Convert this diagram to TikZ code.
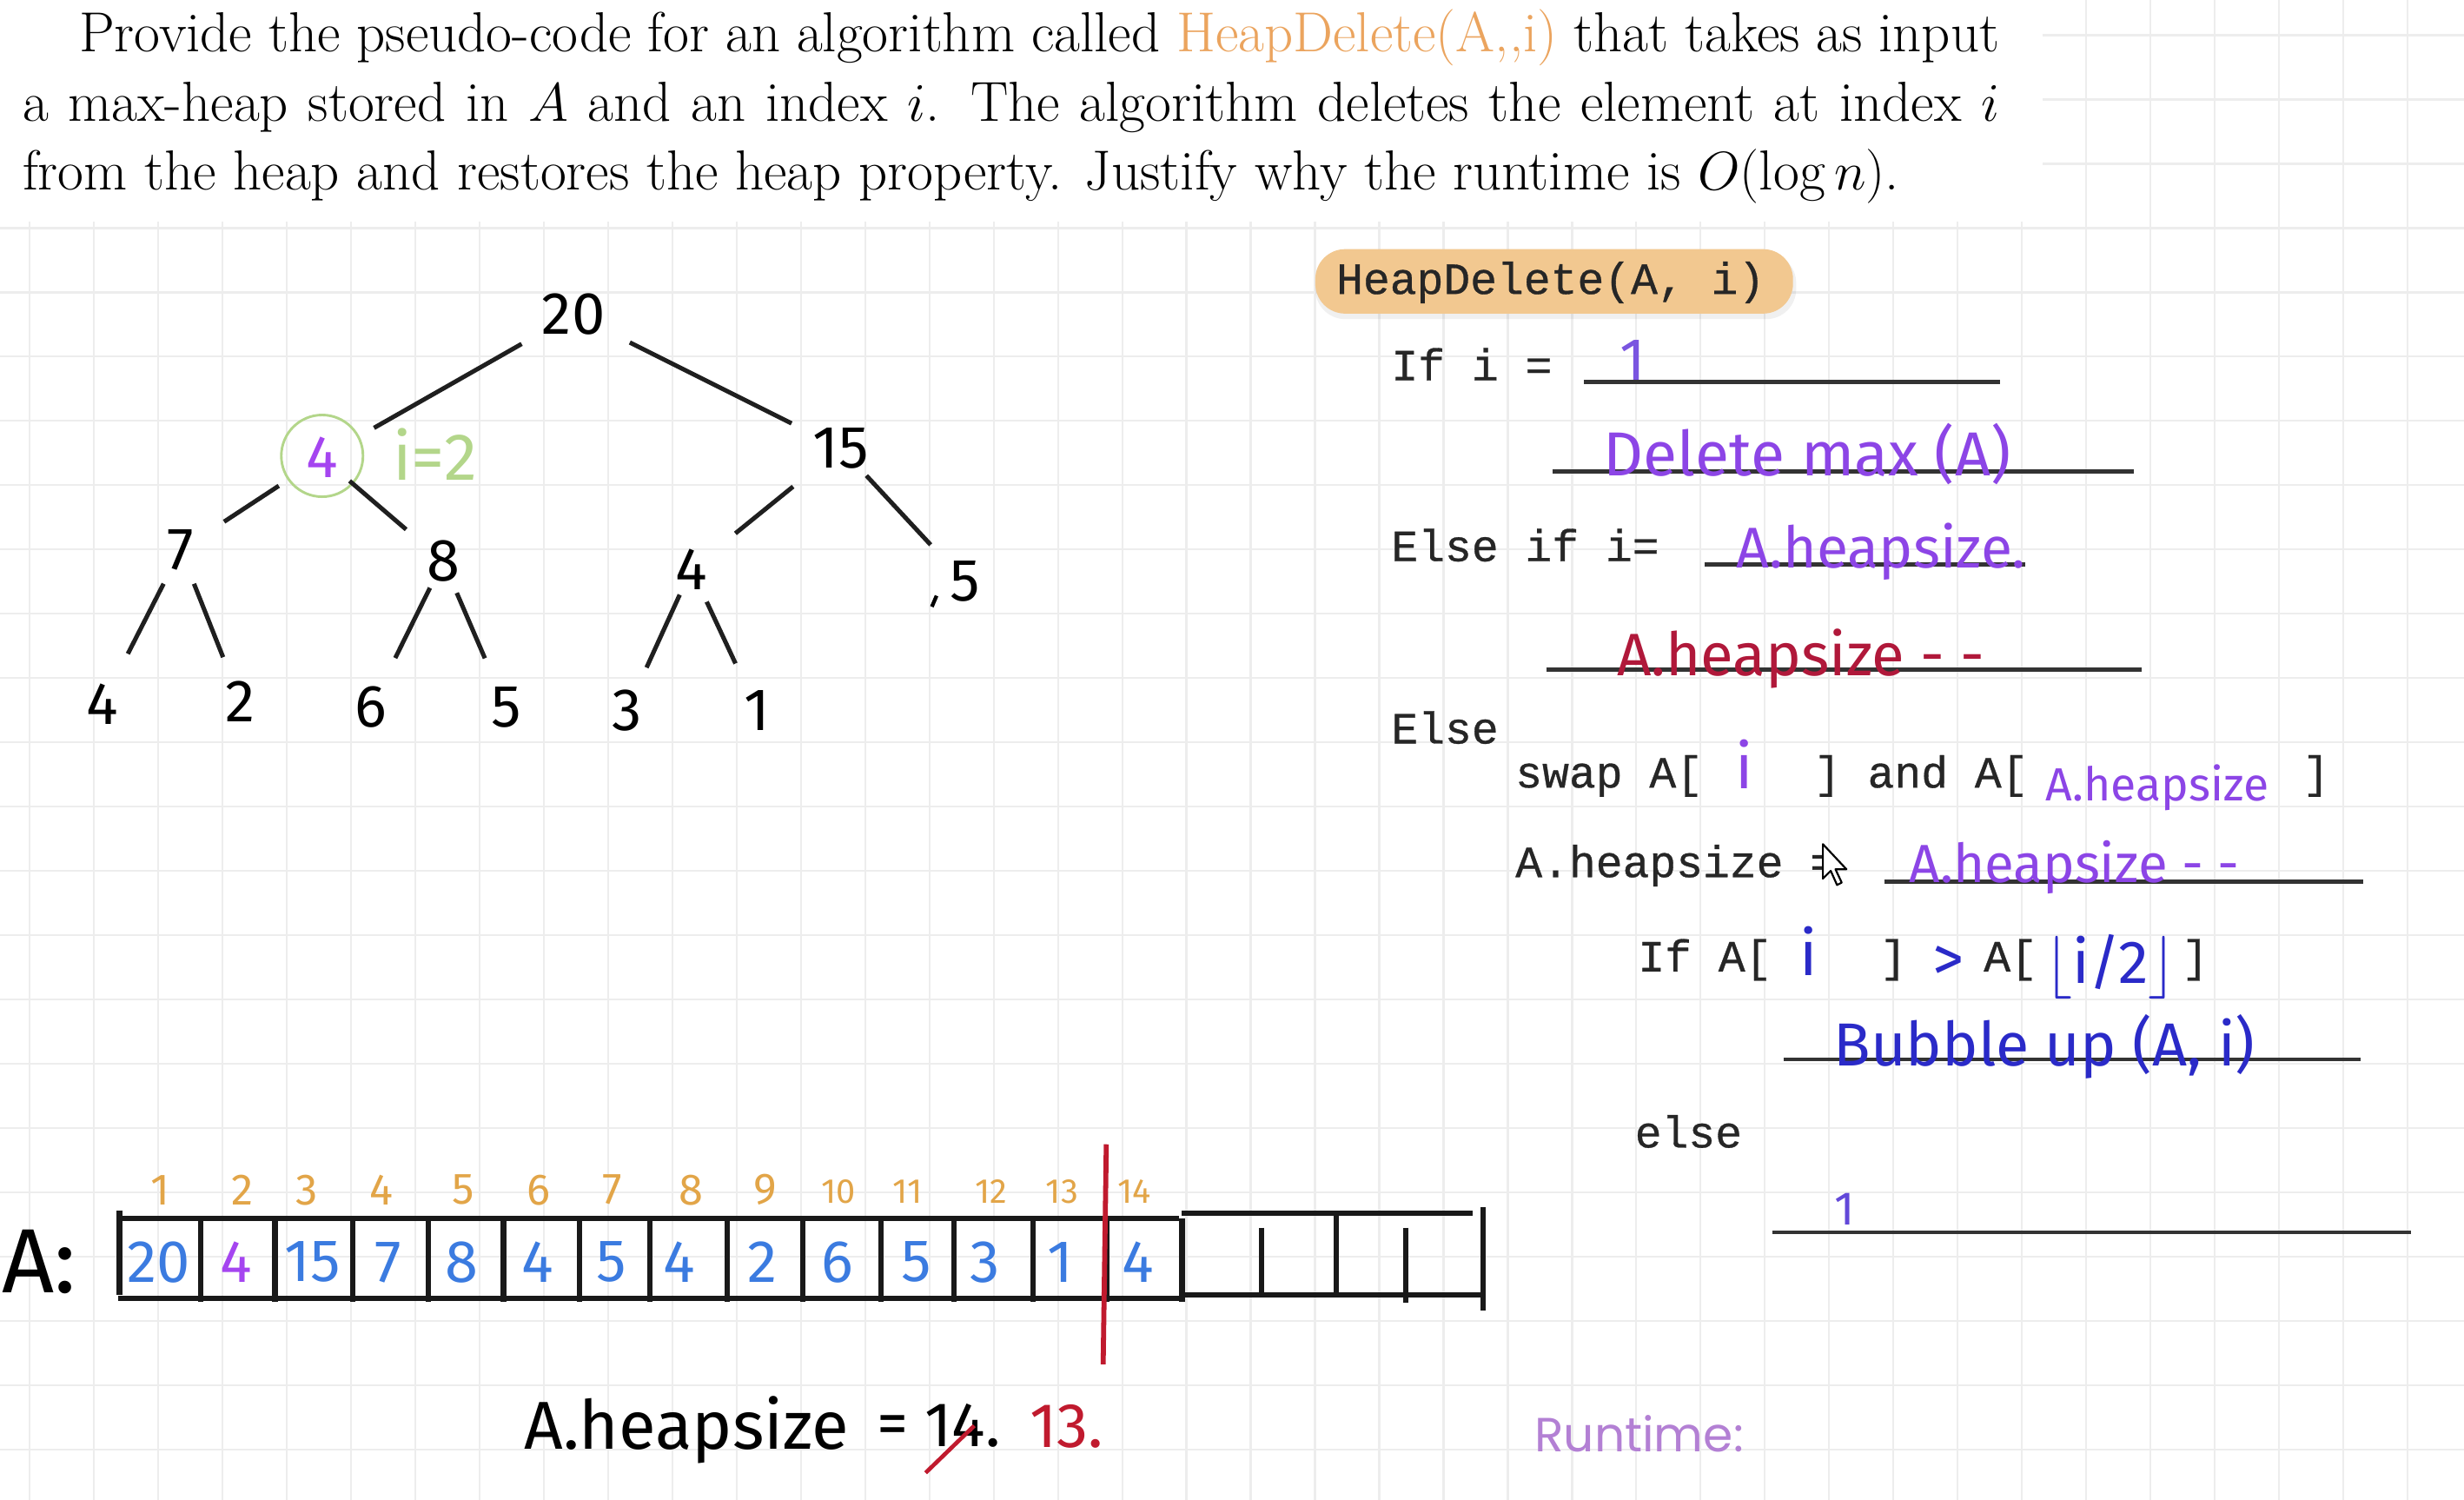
\documentclass[tikz,border=0pt]{standalone}
\usepackage{fontspec}
\usepackage{graphicx}
\newfontfamily\hw{Fira Sans}
\newfontfamily\codefont[FakeBold=0.6]{Liberation Mono}
\newfontfamily\rtfont{Poppins}
\newcommand{\hwfit}[2]{\resizebox{#1}{!}{\hw\fontsize{20}{20}\selectfont #2}}
\definecolor{qorange}{HTML}{EBA45E}
\definecolor{idxorange}{HTML}{E2A548}
\definecolor{hwpurple}{HTML}{8C45E6}
\definecolor{hwred}{HTML}{B0183A}
\definecolor{hwblue}{HTML}{2A2AC8}
\definecolor{valblue}{HTML}{3B7BE0}
\definecolor{nodepurple}{HTML}{A545F0}
\definecolor{igreen}{HTML}{B3D68A}
\definecolor{tanbox}{HTML}{F2C890}
\definecolor{redline}{HTML}{C01A2E}
\definecolor{lilac}{HTML}{B380D4}
\definecolor{codegray}{HTML}{262626}
\definecolor{onepurple}{HTML}{7A55E0}
\begin{document}
\begin{tikzpicture}[x=0.5pt,y=-0.5pt,
  code/.style={font=\codefont\fontsize{14.2}{16}\selectfont, text=codegray, inner sep=0pt, anchor=base west},
  uline/.style={line width=1.3pt, draw=black!80},
  tnode/.style={font=\hw\fontsize{19}{19}\selectfont, inner sep=0pt},
  tedge/.style={line width=1.4pt, draw=black!88},
  hwnode/.style={inner sep=0pt},
  valnode/.style={font=\hw\fontsize{19}{19}\selectfont, inner sep=0pt, text=valblue},
  idxnode/.style={font=\hw\fontsize{14}{14}\selectfont, inner sep=0pt, text=idxorange},
  idxsmall/.style={font=\hw\fontsize{11}{11}\selectfont, inner sep=0pt, text=idxorange},
  arr/.style={line width=1.7pt, draw=black!90},
  gridline/.style={line width=0.6pt, draw=black!7}
]
\useasboundingbox (0,0) rectangle (1568,954);
\fill[white] (0,0) rectangle (1568,954);
% background grid
\foreach \k in {0,...,37} { \draw[gridline] ({18.8+40.9*\k},0) -- ({18.8+40.9*\k},954); }
\foreach \k in {0,...,22} { \draw[gridline] (0,{22.4+40.9*\k}) -- (1568,{22.4+40.9*\k}); }
\fill[white] (0,0) rectangle (1300,141);

% prompt
\node[anchor=base west, inner sep=0pt] (prompt) at (14,33) {\parbox[t]{629pt}{\fontsize{17.95}{22}\selectfont\hspace*{18pt}Provide the pseudo-code for an algorithm called \textcolor{qorange}{HeapDelete(A,{},i)} that takes as input\linebreak a max-heap stored in $A$ and an index $i$. The algorithm deletes the element at index $i$\linebreak from the heap and restores the heap property. Justify why the runtime is $O(\log n)$.}};

% tree
\node[tnode] (t20) at (365,200) {20};
\node[tnode, text=nodepurple] (t4) at (205,291) {4};
\node[draw=igreen, circle, minimum size=26pt, line width=0.8pt, inner sep=0pt] (circ) at (205,290) {};
\node[hwnode, text=igreen] (ieq) at (277,289) {\hwfit{27pt}{i=2}};
\node[tnode] (t15) at (535,285) {15};
\node[tnode] (t7) at (115,350) {7};
\node[tnode] (t8) at (282,357) {8};
\node[tnode] (t4b) at (440,362) {4};
\node[tnode] (t5a) at (614,370) {5};
\node[tnode] (l4) at (65,448) {4};
\node[tnode] (l2) at (153,446) {2};
\node[tnode] (l6) at (236,450) {6};
\node[tnode] (l5) at (322,450) {5};
\node[tnode] (l3) at (399,452) {3};
\node[tnode] (l1) at (482,452) {1};
\draw[line width=1.2pt] (596,379) -- (593,386);

\draw[tedge, shorten <=19pt, shorten >=19pt] (t20.center) -- (t4.center);
\draw[tedge, shorten <=20pt, shorten >=17.5pt] (t20.center) -- (t15.center);
\draw[tedge, shorten <=16.5pt, shorten >=16.5pt] (t4.center) -- (t7.center);
\draw[tedge, shorten <=11.5pt, shorten >=15.5pt] (t4.center) -- (t8.center);
\draw[tedge, shorten <=19.5pt, shorten >=18pt] (t15.center) -- (t4b.center);
\draw[tedge, shorten <=12pt, shorten >=16pt] (t15.center) -- (t5a.center);
\draw[tedge, shorten <=12pt, shorten >=18pt] (t7.center) -- (l4.center);
\draw[tedge, shorten <=11.5pt, shorten >=15pt] (t7.center) -- (l2.center);
\draw[tedge, shorten <=9.5pt, shorten >=17.5pt] (t8.center) -- (l6.center);
\draw[tedge, shorten <=11pt, shorten >=17pt] (t8.center) -- (l5.center);
\draw[tedge, shorten <=9pt, shorten >=15pt] (t4b.center) -- (l3.center);
\draw[tedge, shorten <=11.5pt, shorten >=16.5pt] (t4b.center) -- (l1.center);

% array
\node[hwnode, font=\hw\fontsize{29}{29}\selectfont] (albl) at (25,803) {A:};
\draw[arr] (75,775) -- (750,775);
\draw[arr] (752,772) -- (937,772);
\draw[arr] (75,826) -- (752,826);
\draw[arr] (752,824) -- (945,824);
\draw[arr] (76,770) -- (76,824);
\foreach \x in {127.7,175,224.4,272.5,320.4,368.9,413.5,462.7,511,560.4,607,657.2,704.3,752.2} { \draw[arr] (\x,775) -- (\x,828); }
\draw[arr] (803,781) -- (803,824);
\draw[arr] (850.5,772) -- (850.5,824);
\draw[arr] (894.5,781) -- (894.5,829);
\draw[arr] (944,768) -- (944,834);

\foreach \x/\v/\n in {101/20/1,199/15/3,247/7/4,294/8/5,342/4/6,389/5/7,432/4/8,485/2/9,533/6/10,583/5/11,627/3/12,675/1/13,724/4/14} { \node[valnode] (v\n) at (\x,803) {\v}; }
\node[valnode, text=nodepurple] (v2) at (150,803) {4};
\foreach \x/\v in {101.8/1,154/2,195.5/3,242.7/4,295/5,342.8/6,389.5/7,440/8,486.8/9} { \node[idxnode] (i\v) at (\x,757) {\v}; }
\foreach \x/\v in {533.5/10,577.7/11,630.8/12,675.8/13,722/14} { \node[idxsmall] (i\v) at (\x,758) {\v}; }
\draw[redline, line width=1.6pt] (704,728) -- (702,868);

% heapsize note
\node[hwnode, anchor=base west] (hsA) at (333,922) {\hwfit{103.5pt}{A.heapsize}};
\node[hwnode, font=\hw\fontsize{20}{20}\selectfont] (hseq) at (568,910) {=};
\node[hwnode, anchor=base west, font=\hw\fontsize{20}{20}\selectfont] (hs14) at (588,920) {14.};
\draw[redline, line width=1.3pt] (589,937) -- (620,907);
\node[hwnode, anchor=base west, font=\hw\fontsize{20}{20}\selectfont, text=redline] (hs13) at (655,921) {13.};

% pseudo-code
\node[fill=black, opacity=0.06, rounded corners=9.5pt, minimum width=153pt, minimum height=21pt, inner sep=0pt] (hdshadow) at (990,182) {};
\node[fill=tanbox, rounded corners=9.5pt, minimum width=152pt, minimum height=20.5pt, inner sep=0pt] (hdbox) at (989,179) {};
\node[code] (hd) at (850,187) {HeapDelete(A, i)};

\node[code] (c1) at (885,242) {If i =};
\draw[uline] (1008,243) -- (1273,243);
\node[hwnode, font=\hw\fontsize{19}{19}\selectfont, text=onepurple] (h1) at (1039,229) {1};
\draw[uline] (988,300) -- (1358,300);
\node[hwnode, text=hwpurple] (h2) at (1150,289) {\hwfit{129.5pt}{Delete max (A)}};

\node[code] (c2) at (885,357) {Else if i=};
\draw[uline] (1085,359) -- (1289,359);
\node[hwnode, text=hwpurple] (h3) at (1197,351) {\hwfit{92pt}{A.heapsize.}};
\draw[uline] (984,426) -- (1363,426);
\node[hwnode, text=hwred] (h4) at (1146,419) {\hwfit{117pt}{A.heapsize - -}};

\node[code] (c3) at (885,473) {Else};
\node[code] (c4) at (964,501) {swap A[};
\node[hwnode, font=\hw\fontsize{20}{20}\selectfont, text=hwpurple] (h5) at (1110,486) {i};
\node[code] (c5) at (1154,501) {] and A[};
\node[hwnode, text=hwpurple] (h6) at (1373,501) {\hwfit{71pt}{A.heapsize}};
\node[code] (c6) at (1465,501) {]};

\node[code] (c7) at (964,558) {A.heapsize =};
\draw[uline] (1199,561) -- (1504,561);
\node[hwnode, text=hwpurple] (h7) at (1320,552) {\hwfit{105pt}{A.heapsize - -}};
\filldraw[fill=white, draw=black, line width=0.6pt, line join=round] (1160,537) -- ++(0,22) -- ++(5,-5) -- ++(4,9) -- ++(3,-1.5) -- ++(-4,-8.5) -- ++(7,0) -- cycle;

\node[code] (c8) at (1042,618) {If A[};
\node[hwnode, font=\hw\fontsize{20}{20}\selectfont, text=hwblue] (h8) at (1151,605) {i};
\node[code] (c9) at (1196,618) {]};
\node[hwnode, font=\hw\fontsize{20}{20}\selectfont, text=hwblue] (h9) at (1240,613) {>};
\node[code] (c10) at (1262,618) {A[};
\node[hwnode, text=hwblue] (h10) at (1343,615) {\hwfit{42pt}{$\lfloor$i/2$\rfloor$}};
\node[code] (c11) at (1388,618) {]};
\draw[uline] (1135,674) -- (1502,674);
\node[hwnode, text=hwblue] (h11) at (1301,666) {\hwfit{134pt}{Bubble up (A, i)}};

\node[code] (c12) at (1040,730) {else};
\draw[uline] (1128,784) -- (1534,784);
\node[hwnode, font=\hw\fontsize{15}{15}\selectfont, text=onepurple!70!hwblue] (h12) at (1174,769) {1};

\node[hwnode, text=lilac] (rt) at (1043,912) {\resizebox{66.5pt}{!}{\rtfont\fontsize{20}{20}\selectfont Runtime:}};
\end{tikzpicture}
\end{document}
